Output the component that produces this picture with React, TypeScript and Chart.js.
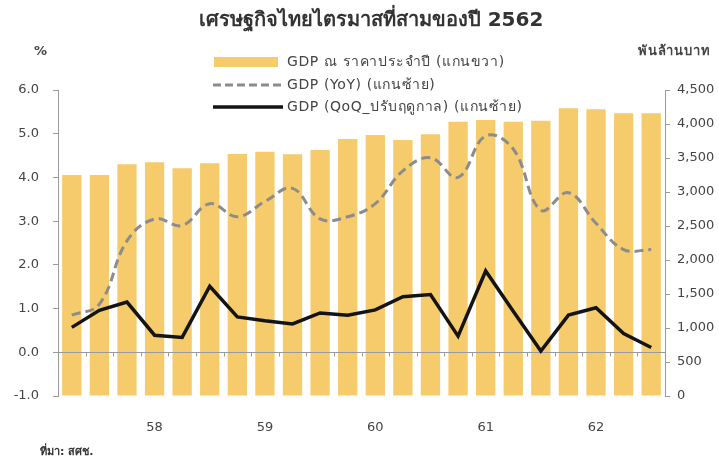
import React, { useEffect, useRef } from 'react';
import { Chart, registerables } from 'chart.js';

Chart.register(...registerables);

// Quarters (Thai Buddhist-era years), Q2/2557 .. Q3/2562
const quarters = [
  'Q2/57', 'Q3/57', 'Q4/57',
  'Q1/58', 'Q2/58', 'Q3/58', 'Q4/58',
  'Q1/59', 'Q2/59', 'Q3/59', 'Q4/59',
  'Q1/60', 'Q2/60', 'Q3/60', 'Q4/60',
  'Q1/61', 'Q2/61', 'Q3/61', 'Q4/61',
  'Q1/62', 'Q2/62', 'Q3/62',
];

// Year tick labels shown under the Q1 of each year
const yearTickLabels = [
  '', '', '',
  '58', '', '', '',
  '59', '', '', '',
  '60', '', '', '',
  '61', '', '', '',
  '62', '', '',
];

// GDP at current prices (billion baht, right axis)
const gdpNominal = [
  3250, 3250, 3407,
  3437, 3348, 3422, 3559,
  3593, 3555, 3618, 3779,
  3838, 3765, 3848, 4034,
  4059, 4034, 4049, 4231,
  4216, 4157, 4157,
];

// GDP YoY (%, left axis)
const gdpYoY = [
  0.85, 1.1, 2.55,
  3.05, 2.9, 3.4, 3.1,
  3.45, 3.75, 3.05, 3.1,
  3.4, 4.15, 4.45, 4.0,
  4.95, 4.65, 3.25, 3.65,
  2.95, 2.35, 2.35,
];

// GDP QoQ seasonally adjusted (%, left axis)
const gdpQoQ = [
  0.57, 0.96, 1.15,
  0.39, 0.34, 1.51, 0.81,
  0.72, 0.65, 0.9, 0.85,
  0.97, 1.27, 1.32, 0.37,
  1.86, 0.94, 0.03, 0.85,
  1.02, 0.43, 0.11,
];

const leftAxisRange = { min: -1, max: 6, step: 1 };
const rightAxisRange = { min: 0, max: 4500, step: 500 };

const titleText = 'เศรษฐกิจไทยไตรมาสที่สามของปี 2562';
const leftUnit = '%';
const rightUnit = 'พันล้านบาท';
const sourceText = 'ที่มา: สศช.';
const legendBar = 'GDP ณ ราคาประจำปี (แกนขวา)';
const legendYoY = 'GDP (YoY) (แกนซ้าย)';
const legendQoQ = 'GDP (QoQ_ปรับฤดูกาล) (แกนซ้าย)';

const FONT = "Tahoma, 'DejaVu Sans', 'Noto Sans', sans-serif";
const BAR_COLOR = '#F6CB6C';
const YOY_COLOR = '#8C8C8C';
const QOQ_COLOR = '#141414';
const AXIS_COLOR = '#9A9A9A';
const TEXT_COLOR = '#444444';

export default function App() {
  const ref = useRef<HTMLCanvasElement | null>(null);

  useEffect(() => {
    document.body.style.margin = '0';
    const canvas = ref.current;
    if (!canvas) return;

    const overlay = {
      id: 'overlay',
      afterDatasetDraw(chart: any, args: any) {
        if (args.index !== 2) return;
        const { ctx, chartArea, scales } = chart;
        const y0 = Math.round(scales.y.getPixelForValue(0)) + 0.5;
        ctx.save();
        ctx.strokeStyle = AXIS_COLOR;
        ctx.lineWidth = 1;
        ctx.beginPath();
        ctx.moveTo(chartArea.left, y0);
        ctx.lineTo(chartArea.right, y0);
        // small category tick marks between bars
        const n = quarters.length;
        const w = (chartArea.right - chartArea.left) / n;
        for (let i = 0; i <= n; i++) {
          const x = Math.round(scales.x.getPixelForValue(Math.min(i, n - 1)) + (i === n ? w / 2 : -w / 2)) + 0.5;
          ctx.moveTo(x, y0);
          ctx.lineTo(x, y0 + 4);
        }
        ctx.stroke();
        ctx.restore();
      },
      afterDraw(chart: any) {
        const { ctx } = chart;
        ctx.save();
        // Title
        ctx.fillStyle = '#333333';
        ctx.font = `bold 20px ${FONT}`;
        ctx.textAlign = 'center';
        ctx.textBaseline = 'middle';
        ctx.fillText(titleText, 371, 21);
        // Units
        ctx.font = `bold 13px ${FONT}`;
        ctx.fillStyle = TEXT_COLOR;
        ctx.textAlign = 'left';
        ctx.fillText(leftUnit, 34, 52);
        (ctx as any).letterSpacing = '0.8px';
        ctx.fillText(rightUnit, 638, 52);
        // Legend
        ctx.fillStyle = BAR_COLOR;
        ctx.fillRect(214, 57, 64, 10);
        ctx.strokeStyle = YOY_COLOR;
        ctx.lineWidth = 3;
        ctx.setLineDash([8, 4]);
        ctx.beginPath();
        ctx.moveTo(213, 85);
        ctx.lineTo(283, 85);
        ctx.stroke();
        ctx.setLineDash([]);
        ctx.strokeStyle = QOQ_COLOR;
        ctx.lineWidth = 3.5;
        ctx.beginPath();
        ctx.moveTo(213, 107);
        ctx.lineTo(283, 107);
        ctx.stroke();
        ctx.font = `14px ${FONT}`;
        (ctx as any).letterSpacing = '0.6px';
        ctx.fillStyle = TEXT_COLOR;
        ctx.fillText(legendBar, 287, 62);
        ctx.fillText(legendYoY, 287, 85);
        ctx.fillText(legendQoQ, 287, 107);
        // Source
        (ctx as any).letterSpacing = '0px';
        ctx.font = `bold 11px ${FONT}`;
        ctx.fillStyle = '#333333';
        ctx.fillText(sourceText, 40, 452);
        ctx.restore();
      },
    };

    const tickFont = { family: FONT, size: 13 };

    const chart = new Chart(canvas, {
      type: 'bar',
      data: {
        labels: quarters,
        datasets: [
          {
            type: 'line',
            label: legendQoQ,
            data: gdpQoQ,
            yAxisID: 'y',
            borderColor: QOQ_COLOR,
            borderWidth: 3.5,
            pointRadius: 0,
            tension: 0,
            order: 0,
          },
          {
            type: 'line',
            label: legendYoY,
            data: gdpYoY,
            yAxisID: 'y',
            borderColor: YOY_COLOR,
            borderWidth: 3,
            borderDash: [9, 5],
            pointRadius: 0,
            tension: 0.4,
            order: 1,
          },
          {
            type: 'bar',
            label: legendBar,
            data: gdpNominal,
            yAxisID: 'y1',
            backgroundColor: BAR_COLOR,
            categoryPercentage: 1,
            barPercentage: 0.7,
            order: 2,
          },
        ],
      } as any,
      options: {
        animation: false,
        responsive: false,
        layout: { padding: { top: 90, left: 0, right: 0, bottom: 0 } },
        plugins: {
          legend: { display: false },
          tooltip: { enabled: false },
          title: { display: false },
        },
        scales: {
          x: {
            grid: { display: false, drawTicks: false },
            border: { display: false },
            ticks: {
              autoSkip: false,
              maxRotation: 0,
              padding: 24,
              color: TEXT_COLOR,
              font: tickFont,
              callback: (_v: any, i: number) => yearTickLabels[i],
            },
            afterFit: (s: any) => {
              s.height = 67;
            },
          },
          y: {
            position: 'left',
            min: leftAxisRange.min,
            max: leftAxisRange.max,
            ticks: {
              stepSize: leftAxisRange.step,
              padding: 14,
              color: TEXT_COLOR,
              font: tickFont,
              callback: (v: any) => Number(v).toFixed(1),
            },
            grid: { drawOnChartArea: false, tickLength: 5, tickColor: AXIS_COLOR },
            border: { color: AXIS_COLOR },
            afterFit: (s: any) => {
              s.width = 58;
            },
          },
          y1: {
            position: 'right',
            min: rightAxisRange.min,
            max: rightAxisRange.max,
            ticks: {
              stepSize: rightAxisRange.step,
              padding: 7,
              color: TEXT_COLOR,
              font: tickFont,
              callback: (v: any) => Number(v).toLocaleString('en-US'),
            },
            grid: { drawOnChartArea: false, tickLength: 5, tickColor: AXIS_COLOR },
            border: { color: AXIS_COLOR },
            afterFit: (s: any) => {
              s.width = 54;
            },
          },
        },
      } as any,
      plugins: [overlay],
    });

    return () => chart.destroy();
  }, []);

  return <canvas ref={ref} width={719} height={463} style={{ display: 'block' }} />;
}
